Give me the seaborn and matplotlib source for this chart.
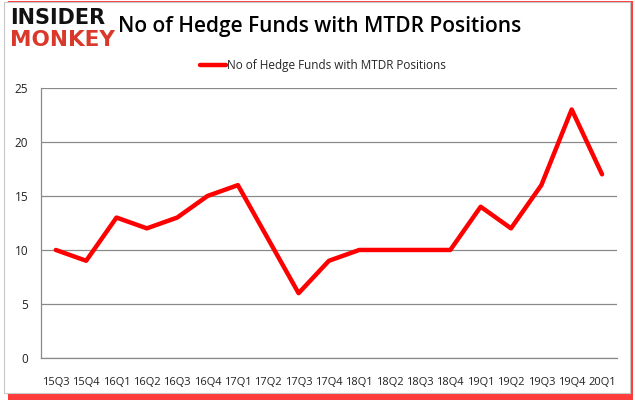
import seaborn as sns
import matplotlib.pyplot as plt
import matplotlib.patches as mpatches
import pandas as pd
import numpy as np

quarters = ['15Q3', '15Q4', '16Q1', '16Q2', '16Q3', '16Q4', '17Q1', '17Q2', '17Q3', '17Q4',
            '18Q1', '18Q2', '18Q3', '18Q4', '19Q1', '19Q2', '19Q3', '19Q4', '20Q1']
funds = [10, 9, 13, 12, 13, 15, 16, 11, 6, 9, 10, 10, 10, 10, 14, 12, 16, 23, 17]
label = 'No of Hedge Funds with MTDR Positions'

df = pd.DataFrame({'quarter': quarters, 'funds': funds})
df['pos'] = np.arange(len(df))

sns.set_style('white')
plt.rcParams['font.family'] = ['Open Sans', 'DejaVu Sans']

fig = plt.figure(figsize=(6.35, 4.05), dpi=100)

# card border and red shadow
fig.patches.append(mpatches.Rectangle((0.012, 0.012), 0.985, 0.985, transform=fig.transFigure,
                                      facecolor='#ff1a1a', edgecolor='none', alpha=0.85, zorder=0))
fig.patches.append(mpatches.Rectangle((0.006, 0.03), 0.986, 0.965, transform=fig.transFigure,
                                      facecolor='white', edgecolor='#c8c8c8', lw=0.8, zorder=1))

ax = fig.add_axes([0.064, 0.116, 0.908, 0.667])
ax.set_zorder(3)
ax.set_facecolor('none')
sns.lineplot(data=df, x='pos', y='funds', color='#ff0000', lw=3.2, ax=ax, label=label)

ax.set_xlim(-0.5, len(df) - 0.5)
ax.set_ylim(0, 25)
ax.set_yticks(range(0, 26, 5))
ax.set_xticks(df['pos'])
ax.set_xticklabels(quarters)
ax.set_xticks(np.arange(-0.5, len(df), 1), minor=True)
ax.tick_params(axis='x', which='major', length=0, labelsize=8, pad=14, colors='#222222')
ax.tick_params(axis='x', which='minor', length=5, color='#888888', width=0.8)
ax.tick_params(axis='y', length=5, color='#888888', width=0.8, labelsize=8.5, pad=4,
               labelcolor='#222222')
ax.grid(axis='y', color='#8a8a8a', lw=0.9)
for s in ['top', 'right']:
    ax.spines[s].set_visible(False)
for s in ['left', 'bottom']:
    ax.spines[s].set_color('#8a8a8a')
    ax.spines[s].set_linewidth(0.9)
ax.set_xlabel('')
ax.set_ylabel('')

leg = ax.legend(loc='lower center', bbox_to_anchor=(0.49, 1.02), frameon=False, fontsize=8.5,
                handlelength=2.2, handletextpad=0.1)

fig.text(0.503, 0.935, label, ha='center', va='center', fontsize=15, fontweight='semibold',
         color='black', zorder=5)
fig.text(0.016, 0.955, 'INSIDER', ha='left', va='center', fontsize=15, fontweight='heavy',
         color='#111111', family=['DejaVu Sans'], zorder=5)
fig.text(0.016, 0.9, 'MONKEY', ha='left', va='center', fontsize=15.5, fontweight='heavy',
         color='#d9382a', family=['DejaVu Sans'], zorder=5)

plt.savefig('out.png', dpi=100)
plt.close()
